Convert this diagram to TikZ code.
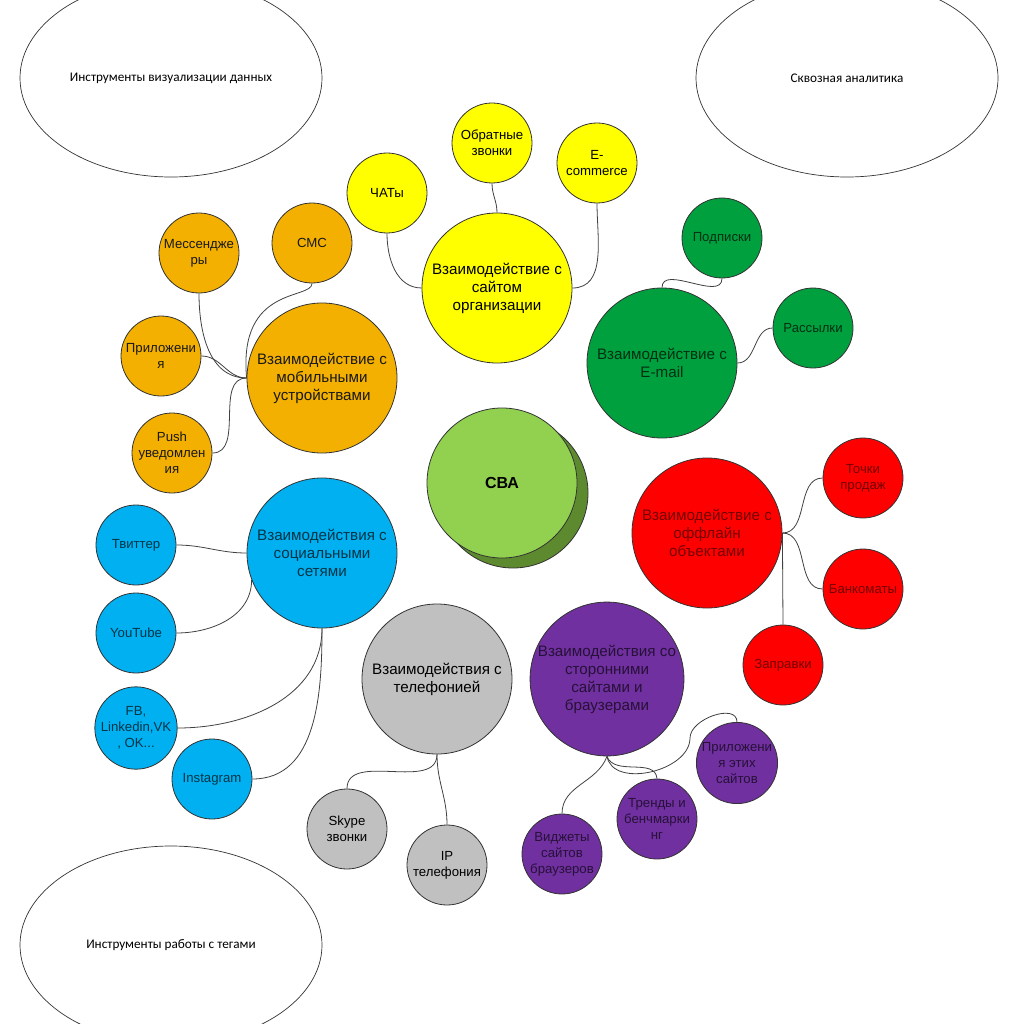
\documentclass[tikz,border=0pt]{standalone}
\usepackage{fontspec}
\setmainfont{Liberation Sans}
\newfontfamily\calib{Carlito}
\usetikzlibrary{shapes.geometric}

\definecolor{cyel}{HTML}{FFFF00}
\definecolor{corg}{HTML}{F3B000}
\definecolor{cgrn}{HTML}{00A03E}
\definecolor{clgr}{HTML}{92D050}
\definecolor{cshd}{HTML}{5E8A2F}
\definecolor{cred}{HTML}{FF0000}
\definecolor{cblu}{HTML}{00B0F0}
\definecolor{cgry}{HTML}{C0C0C0}
\definecolor{cpur}{HTML}{7030A0}

\begin{document}
\begin{tikzpicture}[x=1pt,y=1pt,
  bub/.style={circle,draw=black!80,line width=0.8pt,inner sep=0pt,align=center},
  big/.style={bub,minimum size=150pt,font=\fontsize{15.2}{18}\selectfont},
  sml/.style={bub,minimum size=80pt,font=\fontsize{13.2}{16}\selectfont},
  oval/.style={ellipse,draw=black!80,line width=0.7pt,inner sep=0pt,
    minimum width=302pt,minimum height=198pt,font=\calib\fontsize{13.2}{15}\selectfont},
  link/.style={draw=black!75,line width=0.8pt},
  gyel/.style={fill=cyel,text=black},
  gorg/.style={fill=corg,text=black!90},
  ggrn/.style={fill=cgrn,text=cgrn!30!black},
  gred/.style={fill=cred,text=cred!45!black},
  gblu/.style={fill=cblu,text=cblu!30!black},
  ggry/.style={fill=cgry,text=black},
  gpur/.style={fill=cpur,text=cpur!35!black}]
\useasboundingbox (0,0) rectangle (1024,-1024);

% ovals
\node[oval] (viz) at (171,-78) {Инструменты визуализации данных};
\node[oval] (e2e) at (847,-78) {Сквозная аналитика};
\node[oval] (tags) at (171,-945) {Инструменты работы с тегами};

% centre
\node[bub,minimum size=150pt,fill=cshd] (cbash) at (513,-493) {};
\node[bub,minimum size=150pt,fill=clgr,font=\bfseries\fontsize{16}{18}\selectfont] (cba) at (502,-483) {СВА};

% site
\node[big,gyel] (site) at (497,-288) {Взаимодействие с\\сайтом\\организации};
\node[sml,gyel] (chat) at (387,-193) {ЧАТы};
\node[sml,gyel] (callb) at (492,-143) {Обратные\\звонки};
\node[sml,gyel] (ecom) at (597,-163) {E-\\commerce};
\draw[link] (chat.south) to[out=-90,in=180] (site.west);
\draw[link] (callb.south) to[out=-90,in=90] (site.north);
\draw[link] (ecom.south) to[out=-90,in=0] (site.east);

% mobile
\node[big,gorg] (mob) at (322,-378) {Взаимодействие с\\мобильными\\устройствами};
\node[sml,gorg] (mess) at (199,-253) {Мессендже\\ры};
\node[sml,gorg] (sms) at (312,-243) {СМС};
\node[sml,gorg] (apps) at (161,-356) {Приложени\\я};
\node[sml,gorg] (push) at (172,-453) {Push\\уведомлен\\ия};
\draw[link] (mess.south) to[out=-90,in=180] (mob.west);
\draw[link] (sms.south) .. controls (312,-300) and (238,-285) .. (mob.west);
\draw[link] (apps.east) to[out=0,in=180] (mob.west);
\draw[link] (push.east) to[out=0,in=180] (mob.west);

% e-mail
\node[big,ggrn] (mail) at (662,-363) {Взаимодействие с\\E-mail};
\node[sml,ggrn] (subs) at (722,-238) {Подписки};
\node[sml,ggrn] (news) at (813,-328) {Рассылки};
\draw[link] (subs.south) to[out=-90,in=90] (mail.north);
\draw[link] (news.west) to[out=180,in=0] (mail.east);

% offline
\node[big,gred] (off) at (707,-533) {Взаимодействие с\\оффлайн\\объектами};
\node[sml,gred] (pos) at (863,-478) {Точки\\продаж};
\node[sml,gred] (atm) at (863,-589) {Банкоматы};
\node[sml,gred] (fuel) at (783,-665) {Заправки};
\draw[link] (off.east) to[out=0,in=180] (pos.west);
\draw[link] (off.east) to[out=0,in=180] (atm.west);
\draw[link] (off.east) -- (fuel.north);

% social
\node[big,gblu] (soc) at (322,-553) {Взаимодействия с\\социальными\\сетями};
\node[sml,gblu] (tw) at (136,-545) {Твиттер};
\node[sml,gblu] (yt) at (136,-633) {YouTube};
\node[sml,gblu] (fb) at (136,-728) {FB,\\Linkedin,VK\\, OK...};
\node[sml,gblu] (ins) at (212,-779) {Instagram};
\draw[link] (tw.east) to[out=0,in=180] (soc.west);
\draw[link] (yt.east) to[out=0,in=-90] (soc.201);
\draw[link] (fb.east) to[out=0,in=-90] (soc.south);
\draw[link] (ins.east) to[out=0,in=-90] (soc.south);

% phone
\node[big,ggry] (tel) at (437,-679) {Взаимодействия с\\телефонией};
\node[sml,ggry] (skype) at (347,-829) {Skype\\звонки};
\node[sml,ggry] (ip) at (447,-865) {IP\\телефония};
\draw[link] (tel.south) to[out=-90,in=90] (skype.north);
\draw[link] (tel.south) to[out=-90,in=90] (ip.north);

% third party
\node[big,gpur] (ext) at (607,-679) {Взаимодействия со\\сторонними\\сайтами и\\браузерами};
\node[sml,gpur] (extapp) at (737,-763) {Приложени\\я этих\\сайтов};
\node[sml,gpur] (trend) at (657,-819) {Тренды и\\бенчмарки\\нг};
\node[sml,gpur] (widg) at (562,-854) {Виджеты\\сайтов\\браузеров};
\coordinate (bend) at (690,-738);
\draw[link] (ext.south) to[out=-110,in=90] (widg.north);
\draw[link] (ext.south) to[out=-70,in=95] (trend.north);
\draw[link] (ext.south) to[out=-80,in=-90] (bend) to[out=90,in=90] (extapp.north);
\end{tikzpicture}
\end{document}
